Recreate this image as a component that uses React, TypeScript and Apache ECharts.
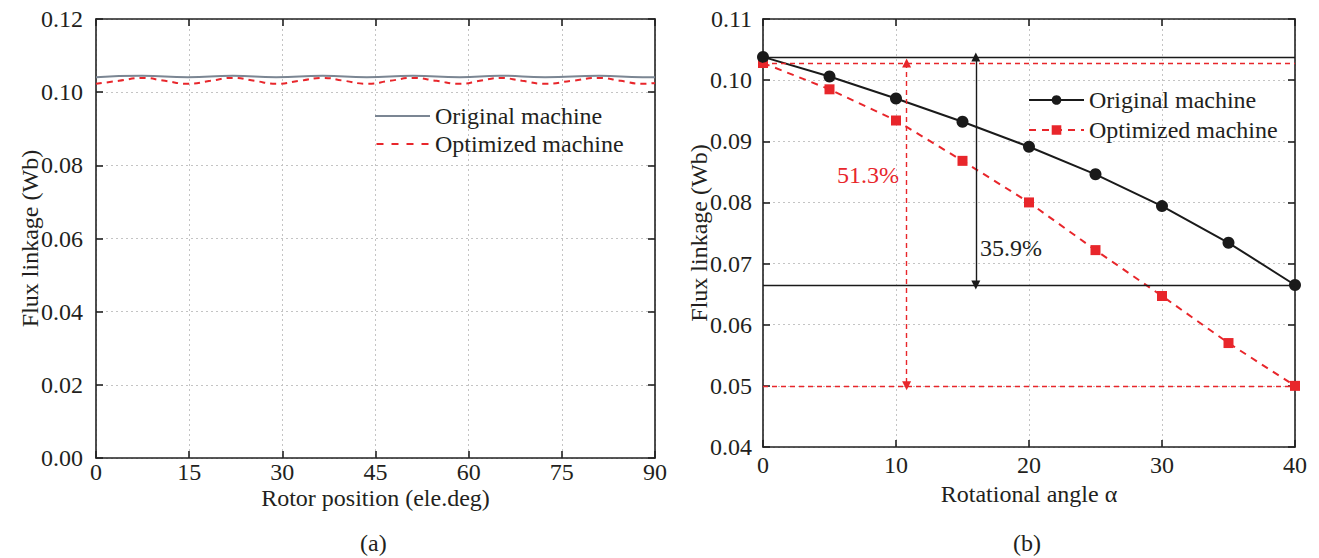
import React, { useEffect, useRef } from "react";
import * as echarts from "echarts";

const FONT = "Liberation Serif";
const TEXT = "#231f20";
const AXIS = "#222222";
const GRID = "#c4c4c4";
const RED = "#e8262b";
const GRAY = "#7b8693";

// ---- (a) flux linkage vs rotor position ----
const rotorOrigX = [0, 7.4, 14.8, 22, 29, 36.5, 43.6, 51, 58.6, 65, 72.3, 81, 88, 90];
const rotorOrigY = [0.1041, 0.1045, 0.1041, 0.1045, 0.1041, 0.1045, 0.1041, 0.1045, 0.1041, 0.1045, 0.1041, 0.1045, 0.1041, 0.1041];
const rotorOptX = [0, 3.7, 7.4, 11.1, 14.8, 18.4, 22, 25.5, 29, 32.8, 36.5, 40, 43.6, 47.3, 51, 54.8, 58.6, 61.8, 65, 68.6, 72.3, 76.6, 81, 84.5, 88, 90];
const rotorOptY = [0.1023, 0.1031, 0.1039, 0.1031, 0.1023, 0.1031, 0.1039, 0.1031, 0.1023, 0.1031, 0.1039, 0.1031, 0.1023, 0.1031, 0.1039, 0.1031, 0.1023, 0.1031, 0.1039, 0.1031, 0.1023, 0.1031, 0.1039, 0.1031, 0.1023, 0.1025];
const leftXTicks = { min: 0, max: 90, interval: 15 };
const leftYTicks = { min: 0, max: 0.12, interval: 0.02 };

// ---- (b) flux linkage vs rotational angle ----
const angles = [0, 5, 10, 15, 20, 25, 30, 35, 40];
const originalFlux = [0.1038, 0.1006, 0.0970, 0.0932, 0.0891, 0.0846, 0.0794, 0.0734, 0.0665];
const optimizedFlux = [0.1028, 0.0985, 0.0934, 0.0868, 0.0800, 0.0722, 0.0647, 0.0570, 0.0500];
const rightXTicks = { min: 0, max: 40, interval: 10 };
const rightYTicks = { min: 0.04, max: 0.11, interval: 0.01 };
const originalArrowAngle = 16;
const optimizedArrowAngle = 10.8;
const originalDropLabel = "35.9%";
const optimizedDropLabel = "51.3%";

const names = ["Original machine", "Optimized machine"];

const SOLID_ICON = "path://M0,0h55v2h-55z";
const DASH_ICON = "path://M0,0h7v2h-7z M15,0h7v2h-7z M30,0h7v2h-7z M45,0h7v2h-7z";

const pairs = (xs: number[], ys: number[]) => xs.map((x, i) => [x, ys[i]]);

function axisPair(kind: "x" | "y", ticks: any, labelFmt: (v: number) => string, extra: any) {
  const base = {
    type: "value",
    min: ticks.min,
    max: ticks.max,
    interval: ticks.interval,
    axisLine: { show: true, onZero: false, lineStyle: { color: AXIS, width: 1.6 } },
    axisTick: { show: true, inside: true, length: 7, lineStyle: { color: AXIS, width: 1.6 } },
  };
  return [
    {
      ...base,
      position: kind === "x" ? "bottom" : "left",
      axisLabel: { show: true, fontSize: 24, color: TEXT, fontFamily: FONT, formatter: labelFmt, ...(extra.axisLabel || {}) },
      splitLine: { show: true, lineStyle: { color: GRID, type: [2, 3], width: 1 } },
      nameTextStyle: { fontSize: 24, color: TEXT, fontFamily: FONT },
      nameLocation: "middle",
      nameMoveOverlap: false,
      name: extra.name,
      nameGap: extra.nameGap,
    },
    {
      ...base,
      position: kind === "x" ? "top" : "right",
      axisLabel: { show: false },
      splitLine: { show: false },
    },
  ];
}

function leftOption(): any {
  const xa = axisPair("x", leftXTicks, (v) => String(v), {
    name: "Rotor position (ele.deg)",
    nameGap: 28,
    axisLabel: { margin: 2 },
  });
  const ya = axisPair("y", leftYTicks, (v) => v.toFixed(2), { name: "Flux linkage (Wb)", nameGap: 54, axisLabel: { margin: 13 } });
  return {
    animation: false,
    textStyle: { fontFamily: FONT },
    grid: { left: 96, top: 19, width: 559, height: 439, outerBoundsMode: "none" },
    legend: {
      orient: "vertical",
      left: 370,
      top: 99,
      itemWidth: 55,
      itemHeight: 2,
      itemGap: 4,
      textStyle: { fontSize: 24, color: TEXT, fontFamily: FONT },
      data: [
        { name: names[0], icon: SOLID_ICON },
        { name: names[1], icon: DASH_ICON },
      ],
    },
    xAxis: xa,
    yAxis: ya,
    series: [
      {
        name: names[0],
        type: "line",
        smooth: true,
        symbol: "none",
        data: pairs(rotorOrigX, rotorOrigY),
        lineStyle: { color: GRAY, width: 2 },
        itemStyle: { color: GRAY },
      },
      {
        name: names[1],
        type: "line",
        smooth: true,
        symbol: "none",
        data: pairs(rotorOptX, rotorOptY),
        lineStyle: { color: RED, width: 2, type: [6, 5] },
        itemStyle: { color: RED },
      },
    ],
    graphic: [
      { type: "text", left: 376 - 16, top: 531, style: { text: "(a)", fontSize: 24, fill: TEXT, fontFamily: FONT } },
    ],
  };
}

function rightOption(): any {
  const xa = axisPair("x", rightXTicks, (v) => String(v), { name: "Rotational angle \u03b1", nameGap: 35, axisLabel: { margin: 6 } });
  const ya = axisPair("y", rightYTicks, (v) => v.toFixed(2), { name: "Flux linkage (Wb)", nameGap: 52, axisLabel: { margin: 11 } });
  const o0 = originalFlux[0];
  const oN = originalFlux[originalFlux.length - 1];
  const p0 = optimizedFlux[0];
  const pN = optimizedFlux[optimizedFlux.length - 1];
  return {
    animation: false,
    textStyle: { fontFamily: FONT },
    grid: { left: 83, top: 19, width: 532, height: 428, outerBoundsMode: "none" },
    legend: {
      orient: "vertical",
      left: 343,
      top: 83,
      itemWidth: 55,
      itemHeight: 12,
      itemGap: 6,
      textStyle: { fontSize: 24, color: TEXT, fontFamily: FONT },
      data: names,
    },
    xAxis: xa,
    yAxis: ya,
    series: [
      {
        name: names[0],
        type: "line",
        symbol: "circle",
        symbolSize: 12,
        data: pairs(angles, originalFlux),
        lineStyle: { color: "#1a1a1a", width: 2 },
        itemStyle: { color: "#1a1a1a" },
        z: 4,
        markLine: {
          silent: true,
          precision: 5,
          symbol: ["none", "none"],
          label: { show: false },
          lineStyle: { color: "#1a1a1a", width: 1.4, type: "solid" },
          data: [
            { yAxis: o0 },
            { yAxis: oN },
            [
              { coord: [originalArrowAngle, o0], symbol: "triangle", symbolSize: 9 },
              { coord: [originalArrowAngle, oN], symbol: "triangle", symbolSize: 9 },
            ],
          ],
        },
      },
      {
        name: names[1],
        type: "line",
        symbol: "rect",
        symbolSize: 10,
        data: pairs(angles, optimizedFlux),
        lineStyle: { color: RED, width: 2, type: [7, 6] },
        itemStyle: { color: RED },
        z: 3,
        markLine: {
          silent: true,
          precision: 5,
          symbol: ["none", "none"],
          label: { show: false },
          lineStyle: { color: RED, width: 1.4, type: [5, 4] },
          data: [
            { yAxis: p0 },
            { yAxis: pN },
            [
              { coord: [optimizedArrowAngle, p0], symbol: "triangle", symbolSize: 9 },
              { coord: [optimizedArrowAngle, pN], symbol: "triangle", symbolSize: 9 },
            ],
          ],
        },
      },
    ],
    graphic: [
      { type: "text", left: 300, top: 236, style: { text: originalDropLabel, fontSize: 24, fill: TEXT, fontFamily: FONT } },
      { type: "text", left: 157, top: 163, style: { text: optimizedDropLabel, fontSize: 24, fill: RED, fontFamily: FONT } },
      { type: "text", left: 349 - 16, top: 531, style: { text: "(b)", fontSize: 24, fill: TEXT, fontFamily: FONT } },
    ],
  };
}

function Chart({ option, style }: { option: any; style: React.CSSProperties }) {
  const ref = useRef<HTMLDivElement>(null);
  useEffect(() => {
    if (!ref.current) return;
    const chart = echarts.init(ref.current, undefined, { renderer: "svg" });
    chart.setOption(option);
    return () => chart.dispose();
  }, []);
  return <div ref={ref} style={style} />;
}

export default function App() {
  return (
    <div style={{ position: "fixed", left: 0, top: 0, width: 1319, height: 558, background: "#ffffff" }}>
      <Chart option={leftOption()} style={{ position: "absolute", left: 0, top: 0, width: 680, height: 558 }} />
      <Chart option={rightOption()} style={{ position: "absolute", left: 680, top: 0, width: 639, height: 558 }} />
    </div>
  );
}
